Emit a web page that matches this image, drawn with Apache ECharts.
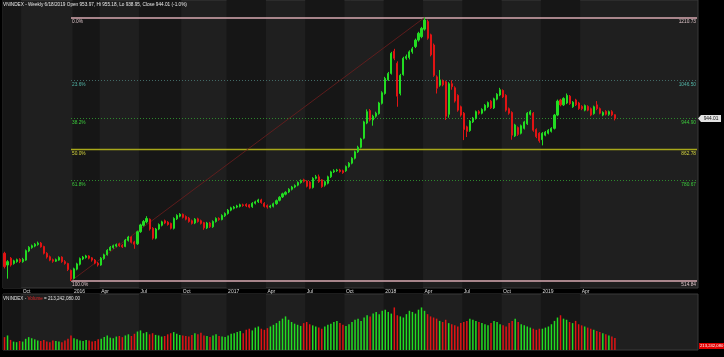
<!DOCTYPE html>
<html><head><meta charset="utf-8">
<script src="https://cdn.jsdelivr.net/npm/echarts/dist/echarts.min.js"></script>
<style>html,body{margin:0;padding:0;background:#000;}#c{width:724px;height:357px;}</style>
</head><body><div id="c"></div>
<script>
// weekly candles [open, close, low, high]
const candles = [
[588,553,548,592],[557,566,521,570],[575,557,553,578],[561,568,558,571],[566,571,563,574],
[572,566,562,575],[566,572,563,576],[570,595,568,598],[594,604,591,607],[603,608,600,611],
[607,612,604,615],[611,615,608,619],[615,605,603,618],[606,588,585,608],[588,578,574,591],
[579,570,567,582],[571,567,563,574],[567,571,565,574],[570,577,568,580],[578,566,563,580],
[566,561,558,570],[561,545,541,563],
[543,520,514.84,545],[522,547,519,550],[546,560,543,563],[559,574,556,577],[573,578,570,581],
[577,581,574,584],[581,575,572,583],[576,570,566,578],[570,562,559,573],[562,557,553,565],
[557,575,555,578],[574,584,571,587],[584,596,582,599],[596,604,594,607],[603,608,600,611],
[607,611,604,614],[613,608,605,616],[609,605,602,612],[606,623,604,626],[622,631,619,634],
[631,617,614,633],[618,612,600,621],[613,645,610,648],[645,663,642,666],[662,672,659,676],
[671,680,667,686],[678,652,648,680],[654,628,624,657],[628,652,625,655],[652,664,649,667],
[662,671,659,674],[674,668,665,677],[670,664,661,673],[667,654,651,669],[654,680,651,683],
[679,688,676,691],[686,691,683,694],[691,683,680,693],[685,678,675,688],[681,672,669,684],
[674,667,664,677],[668,678,665,681],[679,672,669,682],[674,667,664,677],[669,655,650,671],
[655,668,652,671],[668,658,655,671],[658,672,655,675],[672,680,669,683],[680,677,674,683],
[677,688,675,691],[687,693,684,696],
[693,702,690,705],[702,708,699,711],[707,710,704,713],[710,713,707,716],[712,716,709,719],
[716,714,711,719],[717,713,710,720],[716,710,707,718],[711,720,708,723],[720,724,717,727],
[724,729,721,732],[729,722,719,732],[720,712,709,723],[714,710,706,717],[710,713,707,716],
[712,719,709,722],[719,727,716,730],[728,736,725,739],[737,745,734,748],[744,749,741,752],
[750,757,747,760],[757,763,754,766],[763,767,760,770],[768,775,765,778],[775,780,772,783],
[782,778,775,785],[779,765,762,781],[776,760,757,779],[762,786,759,789],[786,790,783,795],
[790,777,774,796],[782,764,761,784],[768,777,764,780],[773,790,770,793],[790,803,787,806],
[803,806,800,810],[806,808,803,811],[808,804,801,811],[806,801,798,809],[806,817,803,820],
[817,826,814,829],[826,839,823,842],[839,856,836,859],[856,868,853,872],[868,890,865,893],
[892,935,889,938],[932,962,929,968],[965,940,936,969],[940,950,925,954],[950,958,946,962],
[957,985,954,988],[984,1012,981,1016],
[1010,1050,1007,1054],[1046,1063,1043,1067],[1063,1116,1060,1120],[1122,1103,1098,1128],[1090,1003,975,1095],
[1010,1058,1005,1062],[1060,1103,1057,1107],[1103,1108,1099,1113],[1105,1120,1100,1124],[1120,1128,1115,1133],
[1134,1151,1130,1155],[1151,1169,1147,1173],[1160,1182,1156,1186],[1180,1204,1176,1210.73],[1200,1156,1152,1205],
[1165,1112,1108,1168],[1138,1058,1054,1142],[1054,1024,1010,1058],[1032,1046,1028,1072],[1043,1033,1029,1047],
[1041,950,940,1044],[955,1036,946,1040],[1036,1028,1020,1045],[1025,990,986,1029],[1005,966,962,1008],
[975,953,949,978],[958,915,887,961],[922,910,895,925],[912,937,909,940],[935,945,932,948],
[944,962,941,965],[962,958,954,966],[958,968,955,971],[966,979,963,982],[975,986,972,989],
[990,972,969,993],[972,996,969,999],[995,1008,992,1011],[1006,1020,1003,1025],[1018,1001,998,1021],
[1005,966,962,1008],[970,958,954,973],[960,900,888,963],[898,927,895,930],[920,902,898,923],
[905,925,902,928],[918,935,915,938],[930,958,927,961],[955,962,952,966],[958,913,909,961],
[915,896,892,918],[905,885,880,908],
[888,905,873,908],[900,908,897,911],[905,913,902,916],[910,918,907,921],[918,953,915,956],
[953,990,950,994],[993,980,976,996],[980,997,977,1000],[985,1005,982,1010],[1003,983,980,1006],
[975,987,972,990],[993,980,977,996],[985,970,967,988],[976,970,966,979],[966,978,963,981],
[976,966,963,979],[970,953,950,973],[957,975,954,978],[980,970,966,990],[970,958,955,973],
[953,960,950,963],[963,955,952,966],[955,962,951,965],[962,953.5,950,966],[953.97,944.01,938.95,955.18]
];
// weekly volume, millions of shares
const volumes = [
230,260,180,150,140,160,150,200,230,210,190,170,160,180,150,140,170,160,150,140,170,200,
260,210,190,170,160,180,170,150,160,190,200,230,260,220,210,240,250,230,260,280,
250,290,330,350,300,320,280,300,270,260,240,250,280,300,320,290,270,260,250,240,
270,300,280,310,260,250,230,260,280,250,240,230,
260,290,300,320,340,300,360,380,350,400,420,380,360,390,420,450,480,520,560,600,
540,500,470,450,430,480,500,460,440,420,400,380,420,450,470,500,520,480,450,430,
460,500,540,560,520,580,620,600,650,680,640,700,
720,680,650,760,620,600,580,640,700,680,650,720,760,700,640,600,580,560,520,500,
540,480,460,440,420,480,500,520,560,540,520,500,480,460,440,480,520,500,460,440,
420,480,520,560,500,460,440,420,400,380,360,380,
380,400,420,460,520,580,620,560,540,500,480,520,460,440,420,400,380,360,340,320,
300,280,260,240,213.24208
];
const lastVolumeText = '213,242,080';
const tickIdx = [6,23,32,45,59,74,87,100,113,126,139,152,165,178,191];
const tickLabels = ['Oct','2016','Apr','Jul','Oct','2017','Apr','Jul','Oct','2018','Apr','Jul','Oct','2019','Apr'];
const fibPct = [0, 0.236, 0.382, 0.5, 0.618, 1];
const fibNames = ['0.0%','23.6%','38.2%','50.0%','61.8%','100.0%'];
const fibLine = ['#d9aab2','#446c69','#2e8a2e','#a8a81a','#2e8a2e','#d9aab2'];
const fibText = ['#dcc4c8','#52b6a8','#3ccc3c','#d6d63c','#3ccc3c','#dcc4c8'];
const fibDotted = [false,true,true,false,true,false];
const fibWidth = [1.4,1,1,1.5,1,1.4];

const N = 230;
const cats = [];
const start = Date.UTC(2015,7,3);
for (let i=0;i<N;i++){ const d=new Date(start+i*7*86400000); cats.push(d.toISOString().slice(0,10)); }

const GREEN='#22dc22', RED='#e01414', DARK='#161616', LIGHT='#1f1f1f';
let hi=-Infinity, lo=Infinity, hiIdx=0, loIdx=0;
candles.forEach((c,i)=>{ if(c[3]>hi){hi=c[3];hiIdx=i;} if(c[2]<lo){lo=c[2];loIdx=i;} });
const last = candles[candles.length-1];
const prev = candles[candles.length-2];
const chg = ((last[1]/prev[1]-1)*100).toFixed(1);

const bounds=[0].concat(tickIdx);
const bands=[];
for(let k=0;k<bounds.length-1;k+=2) bands.push([bounds[k],bounds[k+1]]);

const font='Liberation Sans';
const fs=4.8;
function fmt2(v){ return (Math.round(v*1000-4)/1000).toFixed(2); }

function bandRender(params, api){
  const s=api.value(0), e=api.value(1);
  const w=api.size([1,0])[0];
  const x0=api.coord([s,0])[0]-w/2, x1=api.coord([e,0])[0]-w/2;
  const cs=params.coordSys;
  return {type:'rect',shape:{x:x0,y:cs.y,width:x1-x0,height:cs.height},style:{fill:DARK}};
}
const fibRows = fibPct.map((p,k)=>[k, hi-p*(hi-lo)]);
function fibRender(params, api){
  const k=api.value(0), v=api.value(1);
  const cs=params.coordSys;
  const p0=api.coord([loIdx,v]);
  const x0=p0[0], x1=cs.x+cs.width-1, y=Math.round(p0[1])+(k===0||k===5?0:0.5);
  const txt={fontSize:fs,fontFamily:font,fill:fibText[k]};
  return {type:'group',children:[
    {type:'line',shape:{x1:x0,y1:y,x2:x1,y2:y},style:{stroke:fibLine[k],lineWidth:fibWidth[k],lineDash:fibDotted[k]?[1,2]:null}},
    {type:'text',x:x0+1,y:y+1.5,style:Object.assign({text:fibNames[k],align:'left',verticalAlign:'top',textAlign:'left',textVerticalAlign:'top'},txt)},
    {type:'text',x:x1-1,y:y+1.5,style:Object.assign({text:fmt2(v),align:'right',verticalAlign:'top',textAlign:'right',textVerticalAlign:'top'},txt)}
  ]};
}
function trendRender(params, api){
  const cs=params.coordSys;
  const a=api.coord([loIdx,lo]), b=api.coord([hiIdx,hi]);
  const t=api.coord([candles.length-1,last[1]]);
  const tx=cs.x+cs.width+2, ty=t[1];
  return {type:'group',children:[
    {type:'line',shape:{x1:a[0],y1:a[1],x2:b[0],y2:b[1]},style:{stroke:'#6e1d1d',lineWidth:0.8}},
    {type:'polygon',shape:{points:[[tx-2,ty],[tx+1,ty-3.5],[tx+21,ty-3.5],[tx+21,ty+3.5],[tx+1,ty+3.5]]},style:{fill:'#e2e2e2'}},
    {type:'text',x:tx+11,y:ty,style:{text:last[1].toFixed(2),fill:'#111',fontSize:fs,fontFamily:font,align:'center',verticalAlign:'middle',textAlign:'center',textVerticalAlign:'middle'}}
  ]};
}

const chart=echarts.init(document.getElementById('c'),null,{renderer:'canvas'});
chart.setOption({
  backgroundColor:'#000',
  animation:false,
  textStyle:{fontFamily:font},
  grid:[
    {left:3,top:0,width:695,height:288,show:true,backgroundColor:LIGHT,borderColor:'#3a3a3a',borderWidth:1},
    {left:3,top:294,width:695,height:56,show:true,backgroundColor:LIGHT,borderColor:'#3a3a3a',borderWidth:1}
  ],
  xAxis:[
    {type:'category',gridIndex:0,data:cats,boundaryGap:true,axisLine:{show:false},axisTick:{show:false},splitLine:{show:false},
     axisLabel:{show:true,interval:(i)=>tickIdx.indexOf(i)>=0,align:'left',verticalAlign:'top',margin:1.5,
       color:'#dcdcdc',fontSize:5,fontFamily:font,
       formatter:(v,i)=>{const k=tickIdx.indexOf(i);return k>=0?tickLabels[k]:'';}}},
    {type:'category',gridIndex:1,data:cats,boundaryGap:true,axisLine:{show:false},axisTick:{show:false},axisLabel:{show:false},splitLine:{show:false}}
  ],
  yAxis:[
    {type:'value',gridIndex:0,min:496.35,max:1256.95,axisLine:{show:false},axisTick:{show:false},axisLabel:{show:false},splitLine:{show:false}},
    {type:'value',gridIndex:1,min:0,max:1000,axisLine:{show:false},axisTick:{show:false},axisLabel:{show:false},splitLine:{show:false}}
  ],
  series:[
    {type:'custom',xAxisIndex:0,yAxisIndex:0,z:1,silent:true,clip:false,renderItem:bandRender,data:bands,encode:{x:[0,1]}},
    {type:'custom',xAxisIndex:1,yAxisIndex:1,z:1,silent:true,clip:false,renderItem:bandRender,data:bands,encode:{x:[0,1]}},
    {type:'custom',xAxisIndex:0,yAxisIndex:0,z:2,silent:true,clip:false,renderItem:fibRender,data:fibRows,encode:{x:0,y:1}},
    {type:'custom',xAxisIndex:0,yAxisIndex:0,z:2,silent:true,clip:false,renderItem:trendRender,data:[[loIdx,lo]],encode:{x:0,y:1}},
    {type:'candlestick',xAxisIndex:0,yAxisIndex:0,z:3,data:candles,barWidth:1.6,
     itemStyle:{color:GREEN,color0:RED,borderColor:GREEN,borderColor0:RED,borderWidth:1}},
    {type:'bar',xAxisIndex:1,yAxisIndex:1,z:3,barWidth:1.5,
     data:volumes.map((v,i)=>({value:v,itemStyle:{color:candles[i][1]>=candles[i][0]?GREEN:RED}}))}
  ],
  graphic:[
    {type:'text',left:3,top:2,z:10,style:{text:'VNINDEX - Weekly 6/18/2019 Open '+last[0].toFixed(2)+', Hi '+last[3].toFixed(2)+', Lo '+last[2].toFixed(2)+', Close '+last[1].toFixed(2)+' ('+chg+'%)',
      fill:'#e8e8e8',fontSize:4.7,fontFamily:font}},
    {type:'text',left:3,top:296,z:10,style:{text:'{w|VNINDEX - }{r|Volume}{w| = '+lastVolumeText+'.00}',fontSize:4.6,fontFamily:font,
      rich:{w:{fill:'#e0e0e0',fontSize:4.6,fontFamily:font},r:{fill:'#e02828',fontSize:4.6,fontFamily:font}}}},
    {type:'text',left:699,top:343,z:10,style:{text:lastVolumeText,fill:'#fff',backgroundColor:'#e00000',padding:[1,1,1,1],fontSize:4.2,fontFamily:font}}
  ]
});
</script></body></html>
